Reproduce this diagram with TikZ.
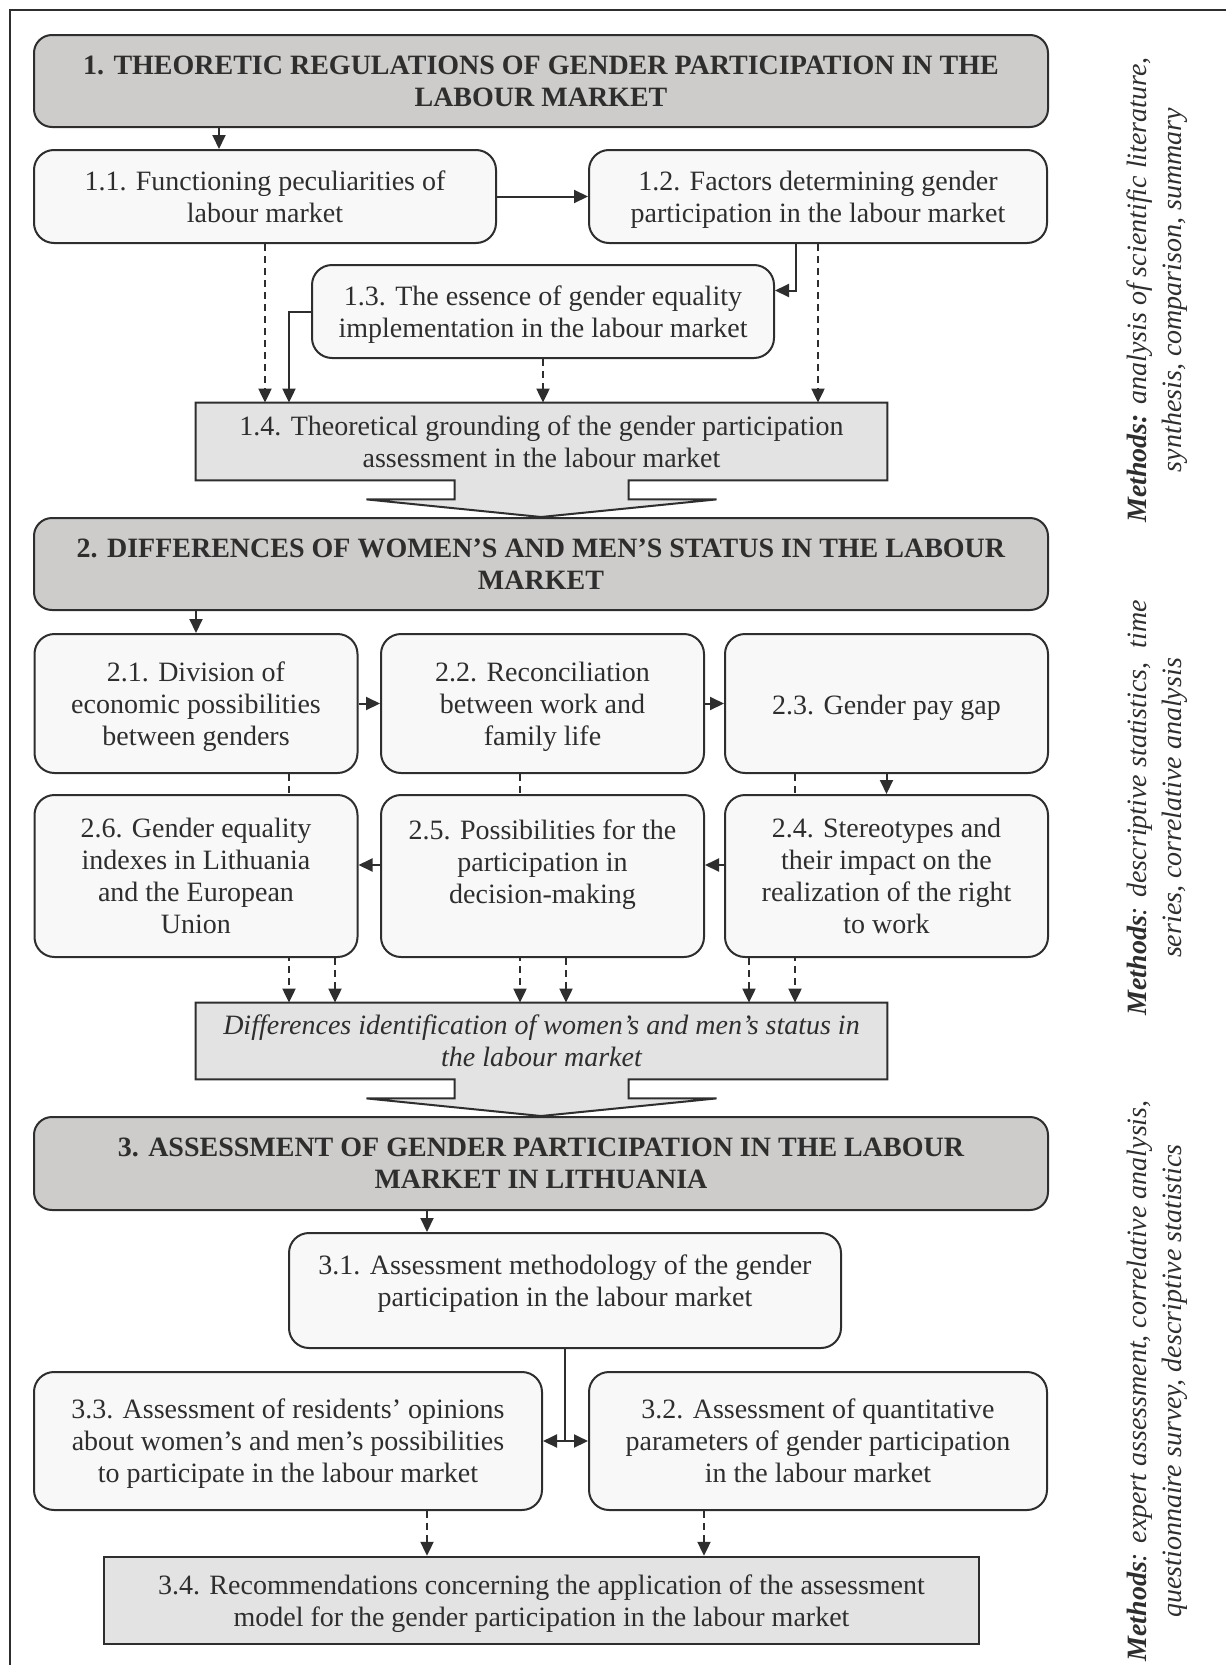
\documentclass[tikz,border=0pt]{standalone}
\usepackage{fontspec}
\setmainfont{Liberation Serif}
\usetikzlibrary{arrows.meta,backgrounds}

\definecolor{headgray}{HTML}{CDCCCA}
\definecolor{boxgray}{HTML}{E3E3E3}
\definecolor{subgray}{HTML}{F8F8F8}
\definecolor{ink}{HTML}{2E2E2E}

\tikzset{
  every node/.style={font=\fontsize{14}{16}\selectfont, text=ink},
  boxtext/.style={align=center, inner sep=0pt, text depth=0pt,
    execute at begin node=\strut},
  header/.style={boxtext, draw=ink, line width=1pt, fill=headgray, rounded corners=9pt,
    minimum width=507pt, minimum height=46pt,
    font=\fontsize{14}{16}\selectfont\bfseries},
  sub/.style={boxtext, draw=ink, line width=1pt, fill=subgray, rounded corners=10pt},
  result/.style={boxtext},
  callout/.style={draw=ink, line width=1pt, fill=boxgray},
  arr/.style={draw=ink, line width=1pt, -{Triangle[length=7pt,width=6.5pt]}},
  darr/.style={arr, dash pattern=on 3.5pt off 2.5pt},
  methods/.style={rotate=90, align=center, inner sep=0pt,
    font=\fontsize{14}{17.5}\selectfont\itshape},
}

\begin{document}
\begin{tikzpicture}[x=0.5pt, y=-0.5pt]
  \useasboundingbox (0,0) rectangle (1226,1665);
  \draw [ink, line width=1pt] (1226,10) -| (10,1665);

  % part 1
  \node (h1) [header] at (541,81)
    {1. THEORETIC REGULATIONS OF GENDER PARTICIPATION IN THE\\LABOUR MARKET};
  \node (n11) [sub, minimum width=231pt, minimum height=46.5pt] at (265,196.5)
    {1.1. Functioning peculiarities of\\labour market};
  \node (n12) [sub, minimum width=229pt, minimum height=46.5pt] at (818,196.5)
    {1.2. Factors determining gender\\participation in the labour market};
  \node (n13) [sub, minimum width=231pt, minimum height=46.5pt] at (543,311.5)
    {1.3. The essence of gender equality\\implementation in the labour market};
  \node (n14) [result, minimum width=345.5pt, minimum height=38.5pt] at (541.5,441.5)
    {1.4. Theoretical grounding of the gender participation\\assessment in the labour market};

  % part 2
  \node (h2) [header] at (541,564)
    {2. DIFFERENCES OF WOMEN'S AND MEN'S STATUS IN THE LABOUR\\MARKET};
  \node (n21) [sub, minimum width=161.5pt, minimum height=69.5pt] at (196,703.5)
    {2.1. Division of\\economic possibilities\\between genders};
  \node (n22) [sub, minimum width=161.5pt, minimum height=69.5pt] at (542.5,703.5)
    {2.2. Reconciliation\\between work and\\family life};
  \node (n23) [sub, minimum width=161.5pt, minimum height=69.5pt] at (886.5,703.5)
    {2.3. Gender pay gap};
  \node (n26) [sub, minimum width=161.5pt, minimum height=81pt] at (196,876)
    {2.6. Gender equality\\indexes in Lithuania\\and the European\\Union};
  \node (n25) [sub, minimum width=161.5pt, minimum height=81pt, text depth=14.75pt] at (542.5,876)
    {2.5. Possibilities for the\\participation in\\decision-making};
  \node (n24) [sub, minimum width=161.5pt, minimum height=81pt] at (886.5,876)
    {2.4. Stereotypes and\\their impact on the\\realization of the right\\to work};
  \node (ndiff) [result, minimum width=345.5pt, minimum height=38pt,
    font=\fontsize{14}{16}\selectfont\itshape] at (541.5,1041)
    {Differences identification of women's and men's status in\\the labour market};

  % part 3
  \node (h3) [header, minimum height=46.5pt] at (541,1163.5)
    {3. ASSESSMENT OF GENDER PARTICIPATION IN THE LABOUR\\MARKET IN LITHUANIA};
  \node (n31) [sub, minimum width=276pt, minimum height=57.5pt, text depth=9.75pt] at (565,1290.5)
    {3.1. Assessment methodology of the gender\\participation in the labour market};
  \node (n33) [sub, minimum width=254pt, minimum height=69pt] at (288,1441)
    {3.3. Assessment of residents' opinions\\about women's and men's possibilities\\to participate in the labour market};
  \node (n32) [sub, minimum width=229pt, minimum height=69pt] at (818,1441)
    {3.2. Assessment of quantitative\\parameters of gender participation\\in the labour market};
  \node (n34) [boxtext, draw=ink, line width=1.2pt, fill=boxgray,
    minimum width=437.5pt, minimum height=43.5pt] at (541.5,1600.5)
    {3.4. Recommendations concerning the application of the assessment\\model for the gender participation in the labour market};

  % methods
  \node (m1) [methods] at (1157.5,290)
    {\textbf{Methods:} analysis of scientific literature,\\synthesis, comparison, summary};
  \node (m2) [methods] at (1157.5,808)
    {\textbf{Methods}: descriptive statistics,\ \ time\\series, correlative analysis};
  \node (m3) [methods] at (1157.5,1381)
    {\textbf{Methods}: expert assessment, correlative analysis,\\questionnaire survey, descriptive statistics};

  \begin{scope}[on background layer]
    \draw [callout]
      (n14.north west) -- (n14.north east) -- (n14.south east)
      -- ([xshift=43.5pt]n14.south) -- ++(0,19) -- ++(88,0)
      -- (h2.north)
      -- ([xshift=-87.5pt,yshift=-9.5pt]n14.south) -- ++(88,0)
      -- ++(0,-19) -- (n14.south west) -- cycle
    ;
    \draw [callout]
      (ndiff.north west) -- (ndiff.north east) -- (ndiff.south east)
      -- ([xshift=43.5pt]ndiff.south) -- ++(0,19) -- ++(88,0)
      -- (h3.north)
      -- ([xshift=-87.5pt,yshift=-9.5pt]ndiff.south) -- ++(88,0)
      -- ++(0,-19) -- (ndiff.south west) -- cycle
    ;
    % passing behind the lower row
    \draw [darr]
      ([xshift=46.5pt]n21.south) -- ([xshift=46.5pt]n21.south |- ndiff.north);
    \draw [darr]
      ([xshift=-11.25pt]n22.south) -- ([xshift=-11.25pt]n22.south |- ndiff.north);
    \draw [darr]
      ([xshift=-45.75pt]n23.south) -- ([xshift=-45.75pt]n23.south |- ndiff.north);
  \end{scope}

  % connectors 1
  \draw [arr]
    ([xshift=-23pt]n11.north |- h1.south) -- ([xshift=-23pt]n11.north)
  ;
  \draw [arr] (n11) -- (n12);
  \draw [arr]
    ([xshift=-11pt]n12.south) |- ([yshift=10.5pt]n13.east)
  ;
  \draw [darr] (n11.south) -- (n11.south |- n14.north);
  \draw [darr] (n12.south) -- (n12.south |- n14.north);
  \draw [darr] (n13.south) -- (n13.south |- n14.north);
  \draw [arr]
    (n13.west) -| ([xshift=12pt]n11.south |- n14.north)
  ;

  % connectors 2
  \draw [arr] (h2.south -| n21.north) -- (n21.north);
  \draw [arr] (n21) -- (n22);
  \draw [arr] (n22) -- (n23);
  \draw [arr] (n23) -- (n24);
  \draw [arr] ([yshift=5.5pt]n24.west) -- ([yshift=5.5pt]n25.east);
  \draw [arr] ([yshift=5.5pt]n25.west) -- ([yshift=5.5pt]n26.east);
  \draw [darr]
    ([xshift=69.5pt]n26.south) -- ([xshift=69.5pt]n26.south |- ndiff.north);
  \draw [darr]
    ([xshift=11.75pt]n25.south) -- ([xshift=11.75pt]n25.south |- ndiff.north);
  \draw [darr]
    ([xshift=-68.75pt]n24.south) -- ([xshift=-68.75pt]n24.south |- ndiff.north);

  % connectors 3
  \draw [arr]
    ([xshift=-69pt]n31.north |- h3.south) -- ([xshift=-69pt]n31.north)
  ;
  \draw [arr] (n31.south) |- (n33.east);
  \draw [arr] (n31.south) |- (n32.west);
  \draw [darr]
    ([xshift=69.5pt]n33.south) -- ([xshift=69.5pt]n33.south |- n34.north);
  \draw [darr]
    ([xshift=-57pt]n32.south) -- ([xshift=-57pt]n32.south |- n34.north);
\end{tikzpicture}
\end{document}
